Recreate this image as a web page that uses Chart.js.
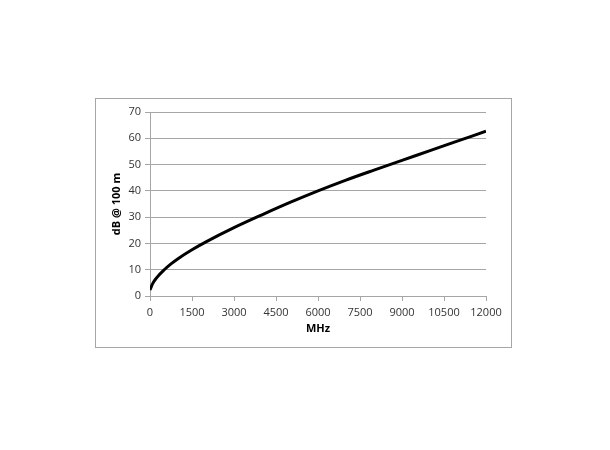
<!DOCTYPE html>
<html>
<head>
<meta charset="utf-8">
<script src="https://cdn.jsdelivr.net/npm/chart.js@4"></script>
<style>
  body { margin: 0; background: #fff; }
  #box {
    position: absolute; left: 95px; top: 98px;
    width: 415px; height: 248px;
    border: 1px solid #a6a6a6;
  }
</style>
</head>
<body>
<div id="box"><canvas id="lossChart" width="415" height="248"></canvas></div>
<script>
// attenuation curve
const freqMHz = [0, 100, 250, 500, 750, 1000, 1500, 2000, 3000, 4000, 5000, 6000, 7000, 8000, 9000, 10000, 11000, 12000];
const lossDb = [2.3, 4.8, 7.1, 9.9, 12.2, 14.2, 17.6, 20.6, 26.0, 30.9, 35.6, 40.0, 44.1, 47.9, 51.6, 55.3, 59.0, 62.7];
const xTicks = [0, 1500, 3000, 4500, 6000, 7500, 9000, 10500, 12000];
const yTicks = [0, 10, 20, 30, 40, 50, 60, 70];

const points = freqMHz.map((f, i) => ({ x: f, y: lossDb[i] }));
const tickFont = { family: 'Open Sans', size: 11 };
const titleFont = { family: 'Open Sans', size: 11, weight: 'bold' };

const ctx = document.getElementById('lossChart').getContext('2d');
new Chart(ctx, {
  type: 'line',
  data: {
    datasets: [{
      data: points,
      borderColor: '#000',
      borderWidth: 3,
      pointRadius: 0,
      cubicInterpolationMode: 'monotone',
      fill: false
    }]
  },
  options: {
    responsive: false,
    animation: false,
    layout: { padding: { top: 13, right: 25, left: 10, bottom: 8 } },
    plugins: { legend: { display: false }, tooltip: { enabled: false } },
    scales: {
      x: {
        type: 'linear',
        min: 0,
        max: 12000,
        afterBuildTicks: s => { s.ticks = xTicks.map(v => ({ value: v })); },
        afterFit: s => { s.height = 43; },
        ticks: { color: '#333', font: tickFont, maxRotation: 0, padding: 5, callback: v => String(v) },
        grid: { drawOnChartArea: false, drawTicks: true, tickLength: 5, color: '#a6a6a6' },
        border: { color: '#a6a6a6' },
        title: { display: true, text: 'MHz', color: '#000', font: titleFont, padding: { top: 0, bottom: 4 } }
      },
      y: {
        min: 0,
        max: 70,
        afterBuildTicks: s => { s.ticks = yTicks.map(v => ({ value: v })); },
        afterFit: s => { s.width = 44; },
        ticks: { color: '#333', font: tickFont, padding: 4 },
        grid: { color: '#a6a6a6', tickLength: 5 },
        border: { color: '#a6a6a6' },
        title: { display: true, text: 'dB @ 100 m', color: '#000', font: titleFont, padding: { bottom: 2 } }
      }
    }
  }
});
</script>
</body>
</html>
